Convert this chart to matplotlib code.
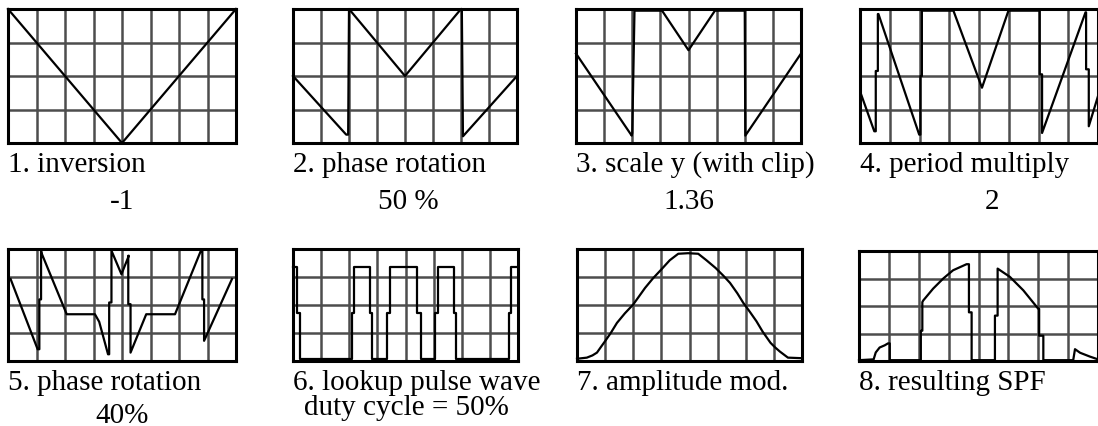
import numpy as np
from matplotlib import pyplot as plt

# waveforms in grid units: x 0..8 (columns), y 0..4 (rows)
inv_x = [0, 4, 8]
inv_y = [4, 0, 4]

rot_x = [0, 1.9, 1.97, 2.0, 4.0, 6.0, 6.03, 6.07, 8.0]
rot_y = [2.0, 0.25, 0.25, 4.0, 2.0, 4.0, 4.0, 0.2, 2.0]

scale_x = [0, 1.98, 2.0, 2.08, 3.06, 4.0, 4.94, 6.0, 6.02, 8.0]
scale_y = [2.67, 0.22, 0.3, 3.95, 3.95, 2.77, 3.95, 3.95, 0.22, 2.67]

mult_x = [0.03, 0.48, 0.53, 0.53, 0.6, 0.6, 0.62, 1.99, 2.03, 2.03, 2.08, 2.08, 3.14,
          4.1, 4.99, 6.04, 6.04, 6.12, 6.12, 7.58, 7.6, 7.6, 7.69, 7.69, 8.0]
mult_y = [1.47, 0.35, 0.35, 2.15, 2.15, 3.85, 3.85, 0.25, 0.25, 2.0, 2.0, 3.95, 3.95,
          1.65, 3.95, 3.95, 2.05, 2.05, 0.3, 3.9, 3.9, 2.2, 2.2, 0.5, 1.4]

rot40_x = [0.09, 1.04, 1.1, 1.1, 1.16, 1.16, 1.19, 2.06, 3.05, 3.2, 3.51, 3.55, 3.55,
           3.63, 3.63, 3.98, 4.24, 4.22, 4.22, 4.3, 4.3, 4.85, 5.86, 6.76, 6.82,
           6.82, 6.88, 6.88, 7.86]
rot40_y = [2.93, 0.42, 0.42, 2.2, 2.2, 3.94, 3.82, 1.67, 1.67, 1.4, 0.24, 0.24, 2.09,
           2.09, 3.94, 3.1, 3.76, 3.76, 2.03, 2.03, 0.3, 1.67, 1.67, 3.92, 3.92,
           2.2, 2.2, 0.72, 2.93]

pulse_x = [0, 0.15, 0.15, 0.24, 0.24, 2.1, 2.1, 2.17, 2.17, 2.73, 2.73, 2.81, 2.81,
           3.34, 3.34, 3.44, 3.44, 4.42, 4.42, 4.54, 4.54, 5.06, 5.06, 5.15, 5.15,
           5.72, 5.72, 5.8, 5.8, 7.67, 7.67, 7.74, 7.74, 8.0]
pulse_y = [3.34, 3.34, 1.7, 1.7, 0.08, 0.08, 1.7, 1.7, 3.34, 3.34, 1.7, 1.7, 0.08,
           0.08, 1.7, 1.7, 3.34, 3.34, 1.7, 1.7, 0.08, 0.08, 1.7, 1.7, 3.34,
           3.34, 1.7, 1.7, 0.08, 0.08, 1.7, 1.7, 3.34, 3.34]

amp_x = [0, 0.35, 0.55, 0.71, 0.85, 1.0, 1.2, 1.42, 1.7, 2.0, 2.2, 2.42, 2.7, 2.99,
         3.3, 3.6, 3.95, 4.31, 4.6, 4.93, 5.2, 5.44, 5.7, 5.91, 6.15, 6.38, 6.6,
         6.88, 7.05, 7.21, 7.5, 8.0]
amp_y = [0.08, 0.12, 0.2, 0.3, 0.5, 0.71, 1.0, 1.36, 1.7, 2.02, 2.3, 2.61, 2.95, 3.26,
         3.6, 3.83, 3.85, 3.83, 3.6, 3.32, 3.05, 2.79, 2.42, 2.08, 1.75, 1.42, 1.05,
         0.65, 0.48, 0.34, 0.12, 0.1]

spf_x = [0, 0.49, 0.56, 0.69, 0.86, 0.97, 1.03, 1.03, 2.07, 2.07, 2.12, 2.12, 2.15,
         2.48, 2.82, 3.15, 3.6, 3.68, 3.68, 3.77, 3.77, 4.55, 4.55, 4.64, 4.64,
         5.05, 5.5, 6.0, 6.03, 6.03, 6.17, 6.17, 7.17, 7.23, 7.4, 7.73, 8.0]
spf_y = [0.03, 0.06, 0.31, 0.49, 0.57, 0.64, 0.64, 0.03, 0.03, 1.1, 1.1, 2.14, 2.2,
         2.63, 3.0, 3.3, 3.52, 3.52, 1.77, 1.77, 0.03, 0.03, 1.65, 1.65, 3.36,
         3.06, 2.57, 1.9, 1.9, 0.92, 0.92, 0.03, 0.03, 0.43, 0.3, 0.16, 0.06]

titles = ["1. inversion", "2. phase rotation", "3. scale y (with clip)",
          "4. period multiply", "5. phase rotation", "6. lookup pulse wave",
          "7. amplitude mod.", "8. resulting SPF"]
params = ["-1", "50 %", "1.36", "2", "40%", "duty cycle = 50%", "", ""]

waves = [(inv_x, inv_y), (rot_x, rot_y), (scale_x, scale_y), (mult_x, mult_y),
         (rot40_x, rot40_y), (pulse_x, pulse_y), (amp_x, amp_y), (spf_x, spf_y)]

# panel boxes in pixels: left, top, right, bottom
boxes = [(8, 10, 236, 144), (293, 10, 517, 144), (576, 10, 801, 144), (860, 10, 1098, 144),
         (8, 250, 236, 362), (293, 250, 518, 362), (577, 250, 802, 362), (859, 252, 1098, 362)]
label_base = [172, 172, 172, 172, 390, 390, 390, 390]
param_base = [209, 209, 209, 209, 423, 415, 0, 0]
param_cx = [122, 408, 689, 992, 122, 406, 0, 0]

W, H = 1098, 427
fig = plt.figure(figsize=(W / 100, H / 100), dpi=100)
serif = ["Liberation Serif", "DejaVu Serif"]

for i, (wx, wy) in enumerate(waves):
    l, t, r, b = boxes[i]
    ax = fig.add_axes([l / W, 1 - b / H, (r - l) / W, (b - t) / H])
    ax.set_xlim(0, 8)
    ax.set_ylim(0, 4)
    ax.set_xticks(np.arange(1, 8))
    ax.set_yticks(np.arange(1, 4))
    ax.grid(True, color="#4d4d4d", linewidth=1.8)
    ax.tick_params(length=0, labelbottom=False, labelleft=False)
    for sp in ax.spines.values():
        sp.set_linewidth(2.2)
        sp.set_color("black")
    ax.plot(wx, wy, color="black", linewidth=1.6, clip_on=False, zorder=3)

    fig.text(l / W, 1 - label_base[i] / H, titles[i], fontsize=21,
             family=serif, ha="left", va="baseline")
    if params[i]:
        fig.text(param_cx[i] / W, 1 - param_base[i] / H, params[i], fontsize=21,
                 family=serif, ha="center", va="baseline")

plt.savefig("out.png", dpi=100)
